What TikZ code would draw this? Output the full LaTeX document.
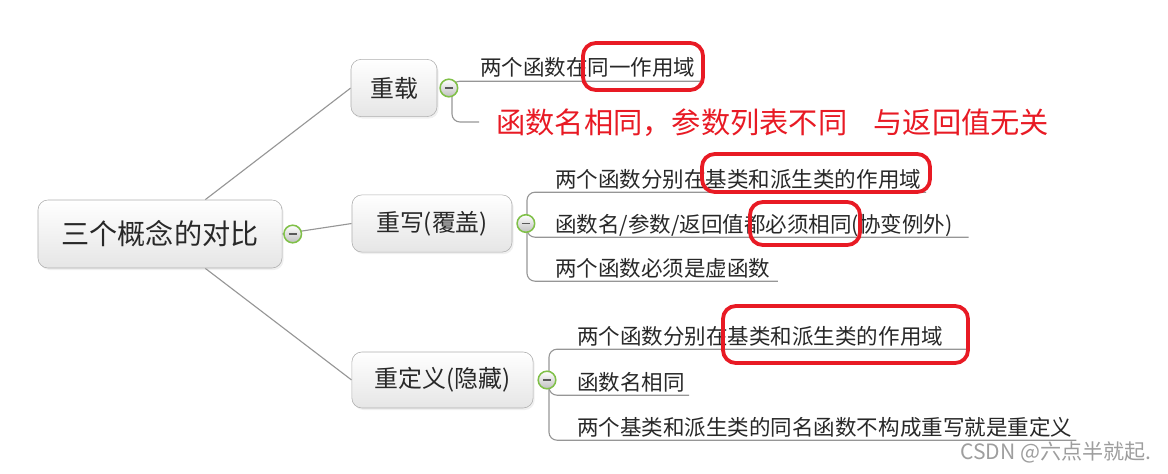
\documentclass[tikz,border=0pt]{standalone}
\usepackage{fontspec}
\setmainfont{Noto Sans CJK SC}
\usetikzlibrary{positioning}
\usetikzlibrary{shadows}
\usetikzlibrary{backgrounds}

\definecolor{linegray}{RGB}{150,150,150}
\definecolor{boxgray}{RGB}{175,175,175}
\definecolor{foldgreen}{RGB}{128,192,72}
\definecolor{markred}{RGB}{232,26,36}
\definecolor{textgray}{RGB}{40,40,40}

\tikzset{
  topic/.style={rectangle, rounded corners=0.25cm, draw=boxgray,
    top color=white, bottom color=black!10, text=textgray,
    inner sep=0pt, minimum height=1.43cm,
    font=\fontsize{17}{20}\selectfont,
    drop shadow={opacity=0.12, shadow xshift=0.04cm, shadow yshift=-0.05cm}},
  fold/.style={circle, draw=foldgreen, line width=1.1pt, inner sep=0pt,
    minimum size=0.44cm, top color=white, bottom color=black!25,
    path picture={\draw[black!65, line width=0.9pt]
      ([xshift=-2.8pt]path picture bounding box.center)
      -- ([xshift=2.8pt]path picture bounding box.center);}},
  leaf/.style={anchor=base west, inner sep=0pt, text=textgray,
    font=\fontsize{15.3}{18}\selectfont},
  branch/.style={draw=linegray, line width=0.8pt, rounded corners=0.2cm},
  redmark/.style={draw=markred, line width=2.7pt, rounded corners=0.32cm}
}

\begin{document}
\begin{tikzpicture}[x=0.025cm, y=-0.025cm]

  \useasboundingbox (0,0) rectangle (1168,473);

  %% The root and the three topics
  \node[topic, minimum width=6.1cm, minimum height=1.7cm,
    font=\fontsize{20}{24}\selectfont] (root) at (160,234) {三个概念的对比};
  \node[topic, minimum width=2.15cm] (zai) at (394,88) {重载};
  \node[topic, minimum width=4.0cm] (xie) at (432,223.5) {重写(覆盖)};
  \node[topic, minimum width=4.53cm, minimum height=1.4cm]
    (dingyi) at (442.5,380) {重定义(隐藏)};

  %% The fold buttons
  \node[fold, right=0.02cm of root] (root-fold) {};
  \node[fold, right=0.05cm of zai] (zai-fold) {};
  \node[fold, right=0.1cm of xie] (xie-fold) {};
  \node[fold, right=0.1cm of dingyi] (dingyi-fold) {};

  %% Leaves of the first topic
  \node[leaf] (zai-a) at (480,76) {两个函数在同一作用域};
  \node[anchor=base west, inner sep=0pt, text=markred,
    font=\fontsize{20.8}{25}\selectfont] (zai-b) at (496,133)
    {函数名相同，参数列表不同\hspace{0.9em}与返回值无关};
  \coordinate (zai-br) at (452,89);
  \coordinate (zai-end) at (479,122);

  %% Leaves of the second topic
  \node[leaf] (xie-a) at (555,187) {两个函数分别在基类和派生类的作用域};
  \node[leaf] (xie-b) at (555,232) {函数名/参数/返回值都必须相同(协变例外)};
  \node[leaf] (xie-c) at (555,276) {两个函数必须是虚函数};
  \coordinate (xie-br) at (527,223);

  %% Leaves of the third topic
  \node[leaf] (dingyi-a) at (577,344) {两个函数分别在基类和派生类的作用域};
  \node[leaf] (dingyi-b) at (577,390) {函数名相同};
  \node[leaf] (dingyi-c) at (577,435)
    {两个基类和派生类的同名函数不构成重写就是重定义};
  \coordinate (dingyi-br) at (549,381);

  %% The connections:
  \begin{scope}[on background layer]
    \draw[linegray, line width=0.8pt] ([xshift=1.13cm]root.north) -- (zai.west);
    \draw[linegray, line width=0.8pt] (root.east) -- (xie.west);
    \draw[linegray, line width=0.8pt] ([xshift=1.13cm]root.south) -- (dingyi.west);

    \draw[branch] ([shift={(0.12cm,-0.13cm)}]zai-a.base east) -| (zai-br)
      |- (zai-end);

    \draw[branch] ([shift={(0.12cm,-0.13cm)}]xie-a.base east) -| (xie-br)
      |- ([shift={(0.18cm,-0.13cm)}]xie-c.base east);
    \draw[branch] (xie-br) |- ([shift={(0.4cm,-0.13cm)}]xie-b.base east);

    \draw[branch] ([shift={(0.6cm,-0.13cm)}]dingyi-a.base east) -| (dingyi-br)
      |- ([shift={(0.1cm,-0.13cm)}]dingyi-c.base east);
    \draw[branch] (dingyi-br) |- ([shift={(0.1cm,-0.13cm)}]dingyi-b.base east);
  \end{scope}

  %% The red marks
  \draw[redmark] (583,43) rectangle (703,90);
  \draw[redmark] (702,154) rectangle (930,192);
  \draw[redmark] (750,202) rectangle (860,245);
  \draw[redmark] (723,306) rectangle (968,363);

  %% Watermark
  \node[anchor=west, inner sep=0pt, text=black!38,
    font=\fontsize{15}{18}\selectfont] (mark-text) at (960,452)
    {CSDN @六点半就起.};

\end{tikzpicture}
\end{document}
